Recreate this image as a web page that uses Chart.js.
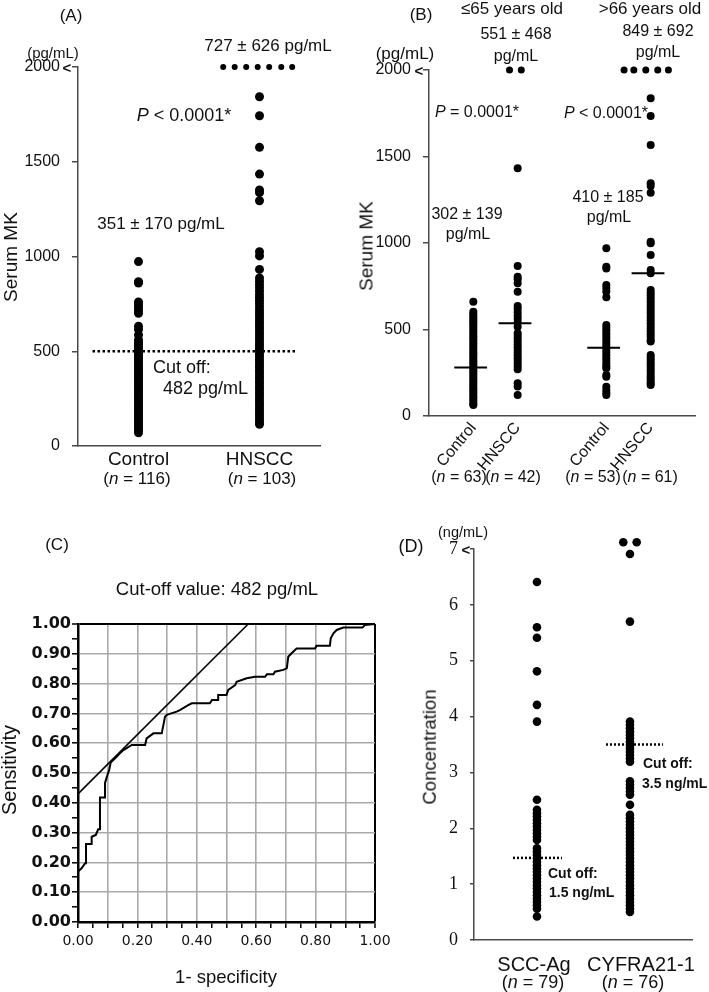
<!DOCTYPE html>
<html>
<head>
<meta charset="utf-8">
<script src="https://cdn.jsdelivr.net/npm/chart.js@4.4.1/dist/chart.umd.min.js"></script>
<style>
  body { margin: 0; background: #fff; }
  #page { position: relative; width: 709px; height: 992px; overflow: hidden;
          font-family: "Liberation Sans", Arial, sans-serif; color: #111; }
  .box { position: absolute; }
  .box canvas { display: block; }
  .t { position: absolute; white-space: nowrap; line-height: 1; transform: translate(-50%, -50%); }
  .l { position: absolute; white-space: nowrap; line-height: 1; transform: translateY(-50%); }
  .v { position: absolute; white-space: nowrap; line-height: 1; transform: translate(-50%, -50%) rotate(-90deg); }
  .b { font-weight: bold; }
</style>
</head>
<body>
<div id="page">
  <div class="box" style="left:0;top:0"><canvas id="chartA" width="360" height="500"></canvas></div>
  <div class="box" style="left:360px;top:0"><canvas id="chartB" width="349" height="500"></canvas></div>
  <div class="box" style="left:0;top:500px"><canvas id="chartC" width="400" height="492"></canvas></div>
  <div class="box" style="left:380px;top:500px"><canvas id="chartD" width="329" height="492"></canvas></div>

  <!-- (A) -->
  <div class="t" style="left:71px;top:15px;font-size:17px">(A)</div>
  <div class="t" style="left:53px;top:52px;font-size:15px">(pg/mL)</div>
  <div class="t b" style="left:67px;top:67px;font-size:15px">&lt;</div>
  <div class="t" style="left:268px;top:45px;font-size:17px">727 ± 626 pg/mL</div>
  <div class="t" style="left:184px;top:115px;font-size:18px"><i>P</i> &lt; 0.0001*</div>
  <div class="t" style="left:161px;top:223px;font-size:17px">351 ± 170 pg/mL</div>
  <div class="l" style="left:153px;top:367px;font-size:18px">Cut off:</div>
  <div class="l" style="left:163px;top:388px;font-size:18px">482 pg/mL</div>
  <div class="t" style="left:137px;top:478px;font-size:17px">(<i>n</i> = 116)</div>
  <div class="t" style="left:262px;top:478px;font-size:17px">(<i>n</i> = 103)</div>
  <div class="v" style="left:10px;top:257px;font-size:19px">Serum MK</div>

  <!-- (B) -->
  <div class="t" style="left:421px;top:14px;font-size:17px">(B)</div>
  <div class="t" style="left:512px;top:8px;font-size:17px">≤65 years old</div>
  <div class="t" style="left:650px;top:8px;font-size:17px">&gt;66 years old</div>
  <div class="t" style="left:516px;top:34px;font-size:16px">551 ± 468</div>
  <div class="t" style="left:516px;top:56px;font-size:16px">pg/mL</div>
  <div class="t" style="left:658px;top:31px;font-size:16px">849 ± 692</div>
  <div class="t" style="left:658px;top:52px;font-size:16px">pg/mL</div>
  <div class="t" style="left:405px;top:53px;font-size:17px">(pg/mL)</div>
  <div class="t b" style="left:419px;top:70px;font-size:15px">&lt;</div>
  <div class="t" style="left:477px;top:112px;font-size:16px"><i>P</i> = 0.0001*</div>
  <div class="t" style="left:606px;top:113px;font-size:16px"><i>P</i> &lt; 0.0001*</div>
  <div class="t" style="left:467px;top:214px;font-size:16px">302 ± 139</div>
  <div class="t" style="left:468px;top:234px;font-size:16px">pg/mL</div>
  <div class="t" style="left:608px;top:197px;font-size:16px">410 ± 185</div>
  <div class="t" style="left:609px;top:217px;font-size:16px">pg/mL</div>
  <div class="t" style="left:459px;top:477px;font-size:16px">(<i>n</i> = 63)</div>
  <div class="t" style="left:513px;top:477px;font-size:16px">(<i>n</i> = 42)</div>
  <div class="t" style="left:593px;top:477px;font-size:16px">(<i>n</i> = 53)</div>
  <div class="t" style="left:650px;top:477px;font-size:16px">(<i>n</i> = 61)</div>
  <div class="v" style="left:366px;top:246px;font-size:19px">Serum MK</div>

  <!-- (C) -->
  <div class="t" style="left:57px;top:544px;font-size:17px">(C)</div>
  <div class="t" style="left:217px;top:589px;font-size:18.5px">Cut-off value: 482 pg/mL</div>
  <div class="t" style="left:226px;top:977px;font-size:18.5px">1- specificity</div>
  <div class="v" style="left:9px;top:770px;font-size:20px">Sensitivity</div>

  <!-- (D) -->
  <div class="t" style="left:411px;top:546px;font-size:18px">(D)</div>
  <div class="t" style="left:463px;top:532px;font-size:14.5px">(ng/mL)</div>
  <div class="t b" style="left:466px;top:549px;font-size:15px">&lt;</div>
  <div class="v" style="left:430px;top:747px;font-size:18.5px">Concentration</div>
  <div class="t" style="left:533px;top:982px;font-size:18px">(<i>n</i> = 79)</div>
  <div class="t" style="left:633px;top:982px;font-size:18px">(<i>n</i> = 76)</div>
  <div class="l b" style="left:548px;top:873px;font-size:14px">Cut off:</div>
  <div class="l b" style="left:549px;top:892px;font-size:14px">1.5 ng/mL</div>
  <div class="l b" style="left:643px;top:763px;font-size:14px">Cut off:</div>
  <div class="l b" style="left:642px;top:783px;font-size:14px">3.5 ng/mL</div>
</div>

<script>
// ---- panel A: serum MK, control vs HNSCC
const aCategories = ['Control', 'HNSCC'];
const aPositions = [1, 2];
const aControl = [973, 867, 860, 760, 746, 731, 715, 700, 632, 615, 586, 560, 548, 537, 525, 514,
  502, 491, 480, 468, 457, 446, 434, 423, 412, 400, 389, 377, 366, 355, 343, 332, 321, 309, 298,
  287, 275, 264, 252, 241, 230, 218, 207, 196, 184, 173, 162, 150, 139, 128, 116, 105, 94, 82, 70];
const aHnscc = [1843, 1743, 1576, 1435, 1351, 1337, 1294, 1025, 1003, 932, 887, 870, 852, 835,
  818, 800, 784, 768, 752, 735, 718, 704, 690, 675, 660, 646, 631, 617, 602, 588, 573, 559, 544,
  530, 515, 501, 486, 472, 457, 443, 428, 414, 399, 385, 370, 356, 341, 327, 312, 298, 283, 269,
  254, 240, 225, 211, 196, 182, 167, 153, 138, 126, 115];
const aOverX = [1.70, 1.795, 1.89, 1.985, 2.08, 2.18, 2.27];   // HNSCC values above 2000
const aOverValue = 2000;
const aCutoffLine = [0.62, 2.3];
const aCutoffValue = 500;
const aTicks = [0, 500, 1000, 1500, 2000];

// ---- panel B: by age group
const bCategories = ['Control', 'HNSCC', 'Control', 'HNSCC'];
const bPositions = [1, 2, 4, 5];
const bMeans = [281, 536, 395, 825];
const bYoungControl = [661, 603, 590, 578, 565, 552, 540, 527, 514, 500, 487, 474, 461, 448, 435,
  421, 408, 395, 382, 369, 356, 343, 330, 317, 304, 291, 278, 265, 252, 239, 226, 213, 200, 187,
  174, 161, 148, 135, 122, 109, 96, 83, 70, 64];
const bYoungHnscc = [1432, 867, 805, 790, 767, 718, 636, 620, 600, 580, 560, 540, 516, 478, 462,
  446, 430, 414, 398, 382, 366, 350, 334, 318, 302, 286, 270, 189, 170, 121];
const bOldControl = [969, 863, 852, 757, 740, 720, 686, 526, 510, 494, 478, 462, 446, 430, 414,
  398, 382, 366, 350, 334, 318, 302, 287, 276, 237, 227, 169, 150, 135, 121];
const bOldHnscc = [1836, 1734, 1566, 1345, 1330, 1290, 1007, 998, 930, 844, 825, 728, 712, 696,
  680, 664, 648, 632, 616, 600, 584, 568, 552, 536, 520, 504, 488, 472, 456, 440, 430, 353, 338,
  323, 308, 293, 278, 263, 248, 233, 218, 203, 190, 179];
const bYoungOverX = [1.816, 2.082];
const bOldOverX = [4.4, 4.62, 4.89, 5.16, 5.4];
const bOverValue = 2000;

// ---- panel C: ROC curve
const rocFpr = [0, 0, 0.012, 0.024, 0.027, 0.027, 0.046, 0.046, 0.06, 0.068, 0.074, 0.074, 0.091,
  0.091, 0.099, 0.105, 0.11, 0.125, 0.141, 0.153, 0.181, 0.226, 0.231, 0.254, 0.282, 0.293, 0.299,
  0.332, 0.343, 0.371, 0.383, 0.444, 0.451, 0.472, 0.472, 0.5, 0.506, 0.529, 0.534, 0.568, 0.596,
  0.63, 0.636, 0.658, 0.663, 0.691, 0.703, 0.708, 0.719, 0.736, 0.798, 0.803, 0.848, 0.851, 0.86,
  0.871, 0.893, 0.958, 0.966, 1.0];
const rocTpr = [0, 0.169, 0.18, 0.197, 0.197, 0.262, 0.262, 0.286, 0.292, 0.311, 0.311, 0.418,
  0.418, 0.467, 0.493, 0.51, 0.535, 0.549, 0.566, 0.577, 0.594, 0.594, 0.616, 0.633, 0.633, 0.689,
  0.695, 0.706, 0.711, 0.728, 0.734, 0.734, 0.745, 0.745, 0.762, 0.762, 0.779, 0.795, 0.806, 0.818,
  0.823, 0.823, 0.831, 0.831, 0.84, 0.846, 0.851, 0.89, 0.902, 0.918, 0.918, 0.927, 0.927, 0.952,
  0.969, 0.98, 0.988, 0.988, 0.997, 1.0];
const tangentX = [0, 0.573];
const tangentY = [0.43, 1.0];

// ---- panel D: SCC-Ag and CYFRA21-1
const dCategories = ['SCC-Ag', 'CYFRA21-1'];
const dPositions = [1, 2];
const dScc = [6.41, 5.6, 5.41, 4.81, 4.21, 3.91, 2.51, 2.33, 2.27, 2.21, 2.15, 2.09, 2.03, 1.97,
  1.91, 1.85, 1.79, 1.64, 1.58, 1.52, 1.46, 1.4, 1.34, 1.28, 1.22, 1.16, 1.1, 1.04, 0.98, 0.92,
  0.86, 0.8, 0.74, 0.68, 0.62, 0.56, 0.42];
const dCyfra = [6.91, 5.7, 3.91, 3.85, 3.79, 3.73, 3.67, 3.61, 3.55, 3.49, 3.43, 3.37, 3.31, 3.25,
  3.19, 2.84, 2.78, 2.72, 2.66, 2.6, 2.42, 2.24, 2.18, 2.12, 2.06, 2.0, 1.94, 1.88, 1.82, 1.76, 1.7,
  1.64, 1.58, 1.52, 1.46, 1.4, 1.34, 1.28, 1.22, 1.16, 1.1, 1.04, 0.98, 0.92, 0.86, 0.8, 0.74, 0.68,
  0.62, 0.56, 0.5];
const dCyfraOverX = [1.928, 2.072];
const dCyfraOverValue = 7.12;
const dCutoffs = [1.47, 3.5];
const dCutoffSpans = [[0.742, 1.269], [1.742, 2.355]];
const dTicks = [0, 1, 2, 3, 4, 5, 6, 7];

// ---- helpers
const ink = '#111';
const axisGray = '#4a4a4a';
const sans = "'Liberation Sans', Arial, sans-serif";
Chart.defaults.font.family = sans;
Chart.defaults.color = ink;

const column = (pos, values) => values.map(v => ({ x: pos, y: v }));
const row = (xs, value) => xs.map(x => ({ x: x, y: value }));

// hoverRadius widens the margin used to decide whether a point is drawn, so marks
// just above the top of the axis (the ">" values) are still painted
function dotSet(data, r) {
  return { type: 'scatter', data: data, pointRadius: r, pointHoverRadius: 14,
    pointBackgroundColor: '#000', pointBorderWidth: 0, showLine: false, clip: false };
}
function lineSet(data, width, dash) {
  return { type: 'scatter', data: data, showLine: true, borderColor: '#000', borderWidth: width,
    borderDash: dash || [], pointRadius: 0, pointHoverRadius: 0, tension: 0, clip: false };
}
function baseOptions(pad) {
  return { responsive: false, animation: false, events: [],
    layout: { padding: pad },
    plugins: { legend: { display: false }, tooltip: { enabled: false } } };
}
function categoryAxis(min, max, positions, labels, font, height, padding, rotation) {
  return { type: 'linear', min: min, max: max,
    afterBuildTicks: s => { s.ticks = positions.map(v => ({ value: v })); },
    afterFit: s => { s.height = height; },
    ticks: { autoSkip: false, minRotation: rotation || 0, maxRotation: rotation || 0,
      font: font, color: ink, padding: padding, callback: (v, i) => labels[i] },
    grid: { drawOnChartArea: false, drawTicks: false },
    border: { color: axisGray, width: 1.5 } };
}
function valueAxis(ticks, font, width, padding, tickLength) {
  return { type: 'linear', min: 0, max: ticks[ticks.length - 1],
    afterBuildTicks: s => { s.ticks = ticks.map(v => ({ value: v })); },
    afterFit: s => { s.width = width; },
    ticks: { font: font, color: ink, padding: padding, callback: v => String(v) },
    grid: { drawOnChartArea: false, tickLength: tickLength || 6, color: axisGray, lineWidth: 1.5 },
    border: { color: axisGray, width: 1.5 } };
}

// ---- A
new Chart(document.getElementById('chartA'), {
  type: 'scatter',
  data: { datasets: [
    lineSet(row(aCutoffLine, aCutoffValue), 2.5, [2.5, 2.5]),
    dotSet(column(aPositions[0], aControl), 4.5),
    dotSet(column(aPositions[1], aHnscc), 4.5),
    dotSet(row(aOverX, aOverValue), 3)
  ] },
  options: Object.assign(baseOptions({ top: 67, right: 40, left: 0, bottom: 0 }), {
    scales: {
      x: categoryAxis(0.5, 2.5, aPositions, aCategories, { size: 19 }, 54, 2),
      y: valueAxis(aTicks, { size: 16 }, 78, 12)
    }
  })
});

// ---- B
const bMeanLines = bMeans.map((m, i) => lineSet(
  [{ x: bPositions[i] - 0.43, y: m }, { x: bPositions[i] + 0.31, y: m }], 2));
new Chart(document.getElementById('chartB'), {
  type: 'scatter',
  data: { datasets: [
    dotSet(column(bPositions[0], bYoungControl), 4),
    dotSet(column(bPositions[1], bYoungHnscc), 4),
    dotSet(column(bPositions[2], bOldControl), 4),
    dotSet(column(bPositions[3], bOldHnscc), 4),
    dotSet(row(bYoungOverX, bOverValue), 3.5),
    dotSet(row(bOldOverX, bOverValue), 3.5)
  ].concat(bMeanLines) },
  options: Object.assign(baseOptions({ top: 70, right: 9, left: 0, bottom: 0 }), {
    scales: {
      x: categoryAxis(0, 6, bPositions, bCategories, { size: 16 }, 84, 3, 50),
      y: valueAxis(aTicks, { size: 16 }, 69, 12)
    }
  })
});

// ---- C
const pct = v => Math.round(v * 100);
function rocAxis(labelEvery, font, padding) {
  return {
    type: 'linear', min: 0, max: 1,
    ticks: { stepSize: 0.05, autoSkip: false, maxRotation: 0, color: ink, font: font, padding: padding,
      callback: v => (pct(v) % labelEvery === 0 ? v.toFixed(2) : '') },
    grid: {
      color: c => { const p = pct(c.tick.value);
        if (p === 100) return '#000';
        return (p !== 0 && p % 10 === 0) ? '#a9a9a9' : 'rgba(0,0,0,0)'; },
      lineWidth: c => (pct(c.tick.value) === 100 ? 2 : 1.6),
      tickColor: '#000', tickWidth: 1.5, tickLength: 6
    },
    border: { color: '#000', width: 2.5 }
  };
}
const cx = rocAxis(20, { family: "'DejaVu Sans', Verdana, sans-serif", size: 14 }, 5);
cx.afterFit = s => { s.height = 70; };
const cy = rocAxis(10, { family: "'DejaVu Sans', Verdana, sans-serif", size: 16, weight: 'bold' }, 1);
cy.afterFit = s => { s.width = 78; };
new Chart(document.getElementById('chartC'), {
  type: 'scatter',
  data: { datasets: [
    lineSet(tangentX.map((x, i) => ({ x: x, y: tangentY[i] })), 1.6),
    lineSet(rocFpr.map((x, i) => ({ x: x, y: rocTpr[i] })), 2)
  ] },
  options: Object.assign(baseOptions({ top: 124, right: 25, left: 0, bottom: 0 }), {
    scales: { x: cx, y: cy }
  })
});

// ---- D
const dCutoffLines = dCutoffs.map((c, i) => lineSet(
  [{ x: dCutoffSpans[i][0], y: c }, { x: dCutoffSpans[i][1], y: c }], 2.5, [2, 2]));
const dx = categoryAxis(0.323, 2.667, dPositions, dCategories, { size: 20 }, 52, 10);
dx.ticks.display = false;   // labels sit off-centre in the figure, placed below
new Chart(document.getElementById('chartD'), {
  type: 'scatter',
  data: { datasets: dCutoffLines.concat([
    dotSet(column(dPositions[0], dScc), 4.3),
    dotSet(column(dPositions[1], dCyfra), 4.3),
    dotSet(row(dCyfraOverX, dCyfraOverValue), 4.3)
  ]) },
  options: Object.assign(baseOptions({ top: 49, right: 17, left: 0, bottom: 0 }), {
    scales: {
      x: dx,
      y: valueAxis(dTicks, { family: "'Liberation Serif', 'Times New Roman', serif", size: 18 }, 94, 12, 4)
    }
  })
});

// category names under panel D
const page = document.getElementById('page');
const dLabelCentres = [534, 641];
dCategories.forEach((name, i) => {
  const el = document.createElement('div');
  el.className = 't';
  el.style.cssText = 'left:' + dLabelCentres[i] + 'px;top:964px;font-size:20px';
  el.textContent = name;
  page.appendChild(el);
});
</script>
</body>
</html>
